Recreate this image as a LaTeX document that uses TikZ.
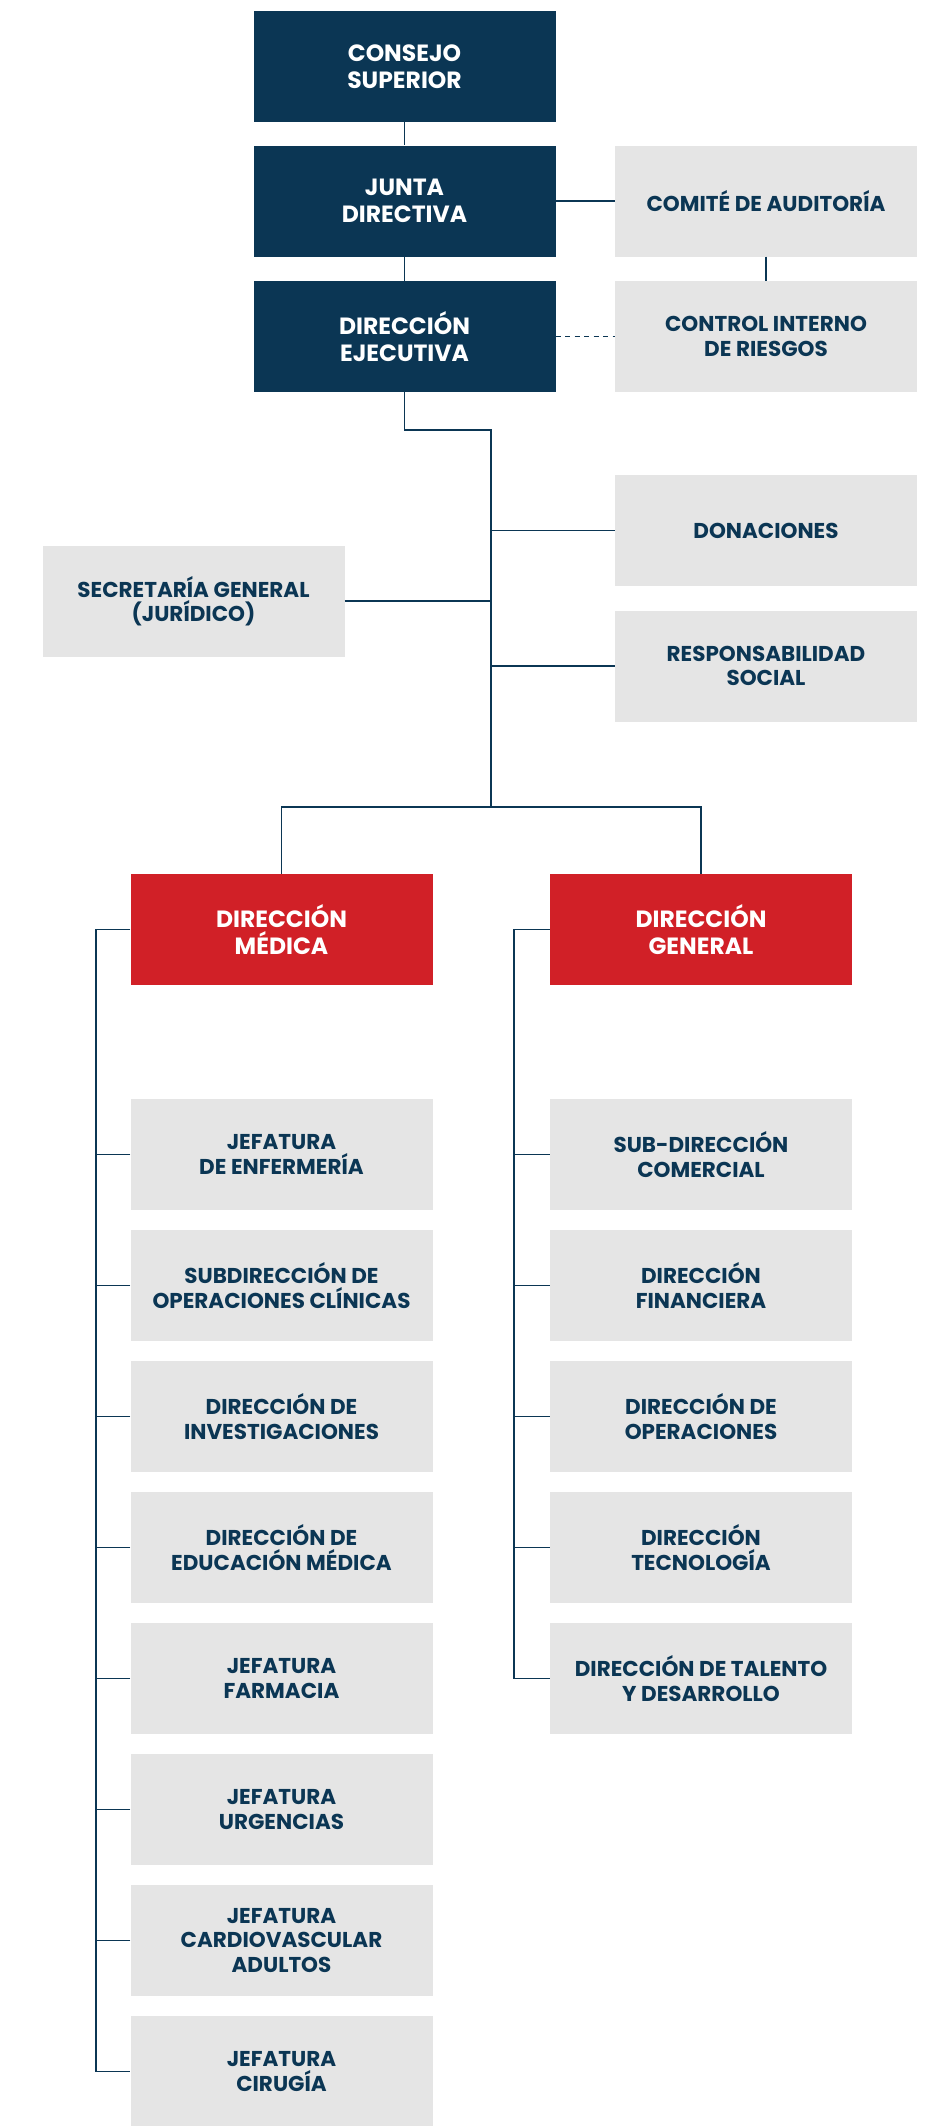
\documentclass[tikz,border=0pt]{standalone}
\usepackage{fontspec}
\setmainfont{Poppins}
\usepackage{tikz}
\definecolor{fsc-navy}{RGB}{11,54,84}
\definecolor{fsc-red}{RGB}{209,32,39}
\definecolor{fsc-gray}{RGB}{229,229,229}

\tikzset{
  unitbox/.style={rectangle, minimum width=302pt, minimum height=111pt,
    inner sep=0pt, align=center, font=\bfseries\fontsize{21.5}{24.5}\selectfont},
  headbox/.style={unitbox, fill=fsc-navy, text=white,
    font=\bfseries\fontsize{23.5}{27}\selectfont},
  redbox/.style={unitbox, fill=fsc-red, text=white,
    font=\bfseries\fontsize{23.5}{27}\selectfont},
  graybox/.style={unitbox, fill=fsc-gray, text=fsc-navy},
  tie/.style={draw=fsc-navy, line width=1.6pt}
}

\begin{document}
\begin{tikzpicture}[x=1pt, y=-1pt]
\useasboundingbox (0,0) rectangle (928,2126);

% Top of the chart
\node[headbox] (consejo)   at (404.5,  66.5) {CONSEJO\\SUPERIOR};
\node[headbox] (junta)     at (404.5, 201)   {JUNTA\\DIRECTIVA};
\node[headbox] (ejecutiva) at (404.5, 336.5) {DIRECCIÓN\\EJECUTIVA};
\node[graybox] (comite)    at (766,   201)   {COMITÉ DE AUDITORÍA};
\node[graybox] (control)   at (766,   336.5) {CONTROL INTERNO\\DE RIESGOS};

% Staff units
\node[graybox] (donaciones) at (766,   530.5) {DONACIONES};
\node[graybox] (secretaria) at (193.5, 601)   {SECRETARÍA GENERAL\\(JURÍDICO)};
\node[graybox] (social)     at (766,   666)   {RESPONSABILIDAD\\SOCIAL};

% Two branches
\node[redbox] (medica)  at (281.5, 929.5) {DIRECCIÓN\\MÉDICA};
\node[redbox] (general) at (701,   929.5) {DIRECCIÓN\\GENERAL};

% Medical branch
\node[graybox] (enfermeria)  at (281.5, 1154.5) {JEFATURA\\DE ENFERMERÍA};
\node[graybox] (clinicas)    at (281.5, 1285.5) {SUBDIRECCIÓN DE\\OPERACIONES CLÍNICAS};
\node[graybox] (investig)    at (281.5, 1416.5) {DIRECCIÓN DE\\INVESTIGACIONES};
\node[graybox] (educacion)   at (281.5, 1547.5) {DIRECCIÓN DE\\EDUCACIÓN MÉDICA};
\node[graybox] (farmacia)    at (281.5, 1678.5) {JEFATURA\\FARMACIA};
\node[graybox] (urgencias)   at (281.5, 1809.5) {JEFATURA\\URGENCIAS};
\node[graybox] (cardio)      at (281.5, 1940.5) {JEFATURA\\CARDIOVASCULAR\\ADULTOS};
\node[graybox] (cirugia)     at (281.5, 2071.5) {JEFATURA\\CIRUGÍA};

% General branch
\node[graybox] (comercial)   at (701, 1154.5) {SUB-DIRECCIÓN\\COMERCIAL};
\node[graybox] (financiera)  at (701, 1285.5) {DIRECCIÓN\\FINANCIERA};
\node[graybox] (operaciones) at (701, 1416.5) {DIRECCIÓN DE\\OPERACIONES};
\node[graybox] (tecnologia)  at (701, 1547.5) {DIRECCIÓN\\TECNOLOGÍA};
\node[graybox] (talento)     at (701, 1678.5) {DIRECCIÓN DE TALENTO\\Y DESARROLLO};

% Spines
\coordinate (spinetop) at (491, 430);
\coordinate (spinebot) at (491, 807);
\coordinate (mspine)   at (96,  929.5);
\coordinate (gspine)   at (514, 929.5);

% Connectors
\draw[tie] (consejo) -- (junta);
\draw[tie] (junta) -- (ejecutiva);
\draw[tie] (junta) -- (comite);
\draw[tie] (comite) -- (control);
\draw[tie, dash pattern=on 5pt off 4.5pt] (ejecutiva) -- (control);

\draw[tie] (ejecutiva.south) |- (spinetop) -- (spinebot);
\draw[tie] (donaciones.west) -- (spinetop |- donaciones.west);
\draw[tie] (secretaria.east) -- (spinetop |- secretaria.east);
\draw[tie] (social.west) -- (spinetop |- social.west);
\draw[tie] (medica.north) |- (spinebot) -| (general.north);

\draw[tie] (medica.west) -- (mspine) |- (cirugia.west);
\draw[tie] (enfermeria.west) -- (mspine |- enfermeria.west);
\draw[tie] (clinicas.west) -- (mspine |- clinicas.west);
\draw[tie] (investig.west) -- (mspine |- investig.west);
\draw[tie] (educacion.west) -- (mspine |- educacion.west);
\draw[tie] (farmacia.west) -- (mspine |- farmacia.west);
\draw[tie] (urgencias.west) -- (mspine |- urgencias.west);
\draw[tie] (cardio.west) -- (mspine |- cardio.west);

\draw[tie] (general.west) -- (gspine) |- (talento.west);
\draw[tie] (comercial.west) -- (gspine |- comercial.west);
\draw[tie] (financiera.west) -- (gspine |- financiera.west);
\draw[tie] (operaciones.west) -- (gspine |- operaciones.west);
\draw[tie] (tecnologia.west) -- (gspine |- tecnologia.west);

\end{tikzpicture}
\end{document}
